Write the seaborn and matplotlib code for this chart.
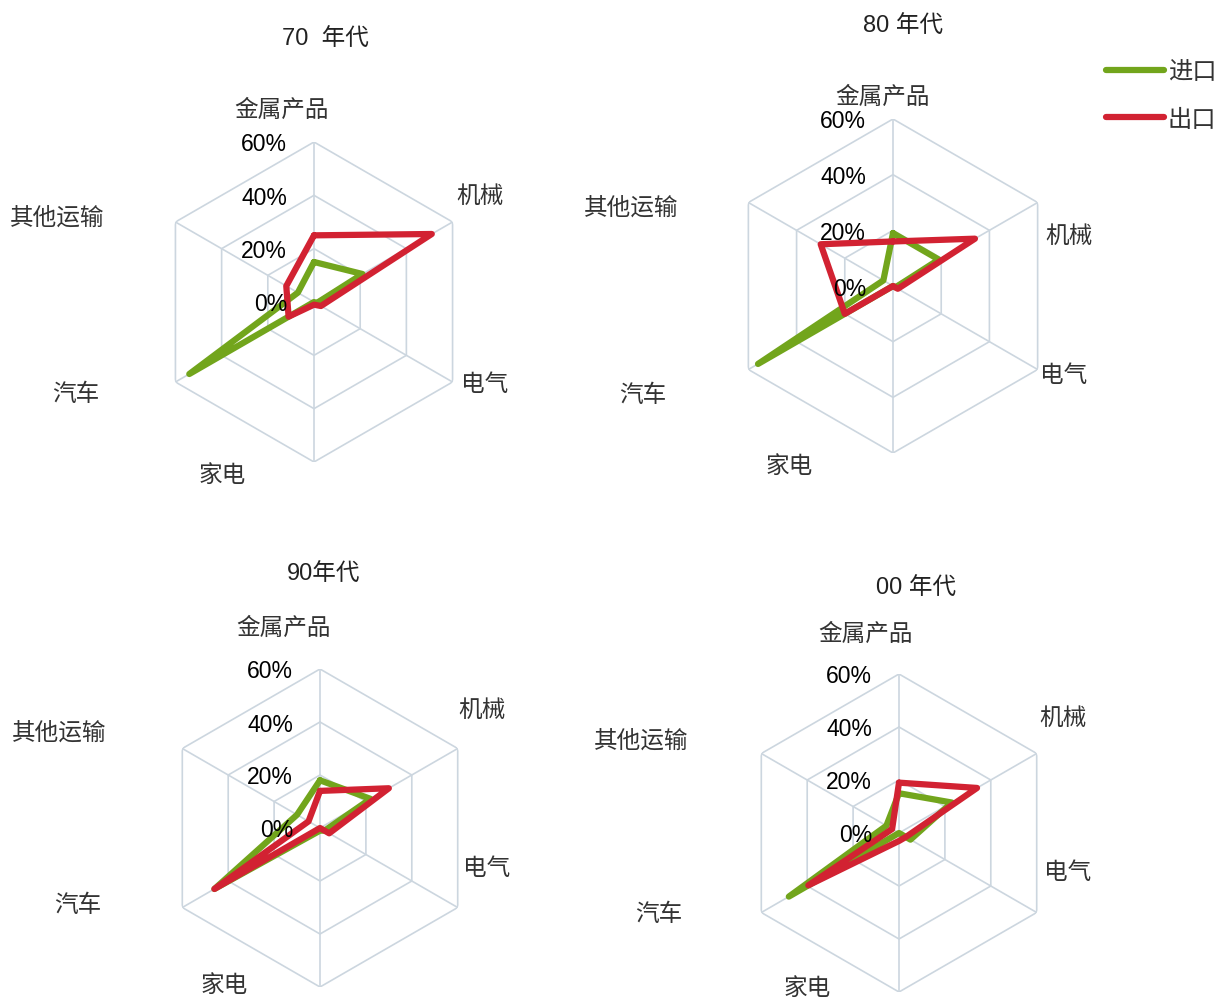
import numpy as np
import pandas as pd
import matplotlib
matplotlib.use('Agg')
import matplotlib.pyplot as plt
from matplotlib.lines import Line2D
import seaborn as sns

# ---------------- data ----------------
categories = ['金属产品', '机械', '电气', '家电', '汽车', '其他运输']
decades = ['70  年代', '80 年代', '90年代', '00 年代']
series_names = ['进口', '出口']

import_70 = [15, 21, 1, 0, 54, 7]
export_70 = [25, 51, 3, 1, 11, 12]
import_80 = [19, 19, 1, 0, 56, 4]
export_80 = [16, 34, 2, 0, 20, 30]
import_90 = [18, 22, 2, 1, 46, 10]
export_90 = [14, 30, 4, 0, 46, 5]
import_00 = [15, 23, 5, 0, 48, 5.5]
export_00 = [19, 34, 3, 3, 39.5, 3]

r_ticks = [0, 20, 40, 60]
r_tick_labels = ['0%', '20%', '40%', '60%']

imports = [import_70, import_80, import_90, import_00]
exports = [export_70, export_80, export_90, export_00]

# ---------------- style ----------------
sns.set_style('white')
plt.rcParams['font.family'] = ['Liberation Sans', 'Noto Sans CJK SC', 'DejaVu Sans']

GREEN = '#72A51C'
RED = '#D22232'
GRID = '#CCD6DF'
TXT = '#333333'

W, H = 1218, 1003
fig = plt.figure(figsize=(W / 100, H / 100), dpi=100)
fig.patch.set_facecolor('white')

# panel layout in pixels: centre x, centre y, radius
panels = [(314, 303, 160), (893, 287, 167), (320, 829, 159), (899, 834, 159)]
title_pos = [(325, 39), (903, 26), (324, 574), (916, 588)]
# category label offsets (px) relative to centre
label_offsets = [
    [(-32, -192), (166, -106), (171, 82), (-92, 173), (-238, 92), (-257, -85)],
    [(-10, -189), (176, -50), (171, 89), (-104, 180), (-250, 109), (-262, -79)],
    [(-36, -200), (162, -118), (167, 40), (-96, 157), (-242, 77), (-261, -96)],
    [(-33, -199), (164, -115), (169, 39), (-92, 155), (-240, 81), (-258, -93)],
]
tick_dy = 2  # px downward shift of radial tick labels

n = len(categories)
theta = np.deg2rad(np.arange(n) * 360.0 / n)
theta_closed = np.append(theta, theta[0])
rmax = r_ticks[-1]

for k in range(4):
    cx, cy, R = panels[k]
    ax = fig.add_axes([(cx - R) / W, (H - cy - R) / H, 2 * R / W, 2 * R / H],
                      projection='polar')
    ax.set_theta_zero_location('N')
    ax.set_theta_direction(-1)
    ax.set_ylim(0, rmax)
    ax.grid(False)
    ax.spines['polar'].set_visible(False)
    ax.set_xticks([])
    ax.set_yticks([])
    ax.patch.set_alpha(0)

    # hexagonal grid
    for r in r_ticks[1:]:
        ax.plot(theta_closed, [r] * (n + 1), color=GRID, lw=1.2, zorder=1)
    for t in theta:
        ax.plot([t, t], [0, rmax], color=GRID, lw=1.2, zorder=1)

    # data
    rows = []
    for name, vals in zip(series_names, [imports[k], exports[k]]):
        vc = list(vals) + [vals[0]]
        for t, v in zip(theta_closed, vc):
            rows.append({'theta': t, 'value': v, 'series': name})
    df = pd.DataFrame(rows)
    sns.lineplot(data=df, x='theta', y='value', hue='series',
                 hue_order=series_names, palette=[GREEN, RED],
                 sort=False, estimator=None, ax=ax, linewidth=4.5,
                 legend=False, solid_joinstyle='round', solid_capstyle='round',
                 zorder=3)
    ax.set_xlabel('')
    ax.set_ylabel('')
    ax.set_ylim(0, rmax)

    # radial tick labels
    for r, lab in zip(r_ticks, r_tick_labels):
        ax.text(0.5 - 27 / (2 * R), 0.5 + 0.5 * r / rmax - tick_dy / (2 * R), lab,
                transform=ax.transAxes, ha='right', va='center',
                fontsize=16.5, color='black', zorder=5)

    # category labels
    for cat, (dx, dy) in zip(categories, label_offsets[k]):
        ax.text(0.5 + dx / (2 * R), 0.5 - dy / (2 * R), cat,
                transform=ax.transAxes, ha='center', va='center',
                fontsize=17, color=TXT)

    tx, ty = title_pos[k]
    fig.text(tx / W, 1 - ty / H, decades[k], ha='center', va='center',
             fontsize=17, color='#222222')

handles = [Line2D([0], [0], color=c, lw=4.5, solid_capstyle='round')
           for c in [GREEN, RED]]
fig.legend(handles, series_names, loc='center left',
           bbox_to_anchor=(1106 / W, 1 - 97 / H), frameon=False,
           borderpad=0, borderaxespad=0, handlelength=2.4,
           handletextpad=0.15, labelspacing=1.05, fontsize=17.5,
           labelcolor=TXT)

fig.savefig('out.png', dpi=100, facecolor='white')
